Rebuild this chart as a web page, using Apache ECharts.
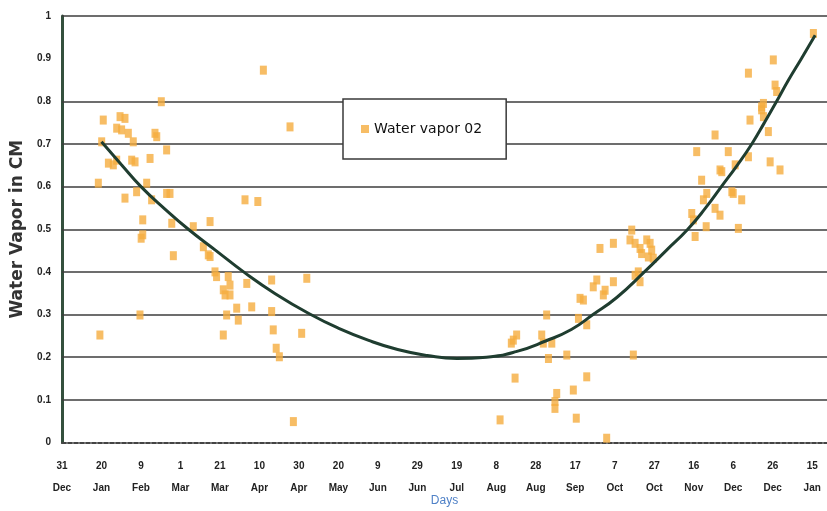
<!DOCTYPE html>
<html>
<head>
<meta charset="utf-8">
<title>Water vapor</title>
<script src="https://cdn.jsdelivr.net/npm/echarts@6/dist/echarts.min.js"></script>
<style>
  html, body { margin: 0; padding: 0; background: #ffffff; }
  #chart { width: 827px; height: 511px; }
</style>
</head>
<body>
<div id="chart"></div>
<script>
// Day of observation, counted from 31 Dec
const vaporDays = [
  18.4, 19.2, 20.9, 20.1, 23.5, 26.0, 27.7, 29.4, 31.9, 27.7, 30.2, 33.6, 36.1, 35.3, 37.0,
  31.9, 37.8, 42.9, 44.6, 40.9, 40.9, 40.1, 45.4, 48.0, 47.1, 50.3, 53.0, 53.0, 54.7, 55.6,
  39.5, 56.4,
  66.5, 75.0, 71.6, 74.1, 75.0, 77.5, 78.3, 84.2, 85.1, 81.7, 82.6, 85.1, 83.4, 81.7, 88.5,
  89.3, 93.6, 96.1, 92.7, 99.2, 102.0,
  106.2, 106.2, 107.0, 108.5, 110.1, 117.2, 121.4, 124.0, 115.5,
  221.9, 229.5, 228.6, 230.3, 227.6, 243.0, 243.8, 248.1, 245.5, 246.4, 255.7, 250.6, 249.7,
  249.7, 259.0, 260.5, 265.8, 261.6, 265.8, 262.4, 264.1, 269.1, 270.9, 274.2, 275.9, 272.5,
  279.3, 279.3, 288.6, 287.7, 290.3, 292.8, 293.6, 296.2, 297.9, 298.7, 297.0, 299.5, 291.9,
  290.3, 292.8, 289.4, 275.1,
  319.0, 319.8, 320.7, 321.5, 324.0, 326.6, 324.9, 326.3, 330.8, 330.8, 333.3, 334.2, 333.3,
  337.5, 339.3, 340.0, 341.0, 344.3, 342.6, 347.7, 347.7, 348.5, 354.4, 355.3, 354.4, 355.3,
  357.8, 358.7, 363.7, 360.3, 361.2, 362.0, 380.6
];

// Water vapour (cm) for each day above
const vaporValues = [
  0.608, 0.252, 0.756, 0.705, 0.655, 0.651, 0.662, 0.764, 0.760, 0.737, 0.733, 0.725, 0.705, 0.662, 0.658,
  0.573, 0.588, 0.608, 0.666, 0.522, 0.487, 0.479, 0.569, 0.717, 0.725, 0.799, 0.686, 0.584, 0.584, 0.514,
  0.299, 0.438,
  0.506, 0.518, 0.459, 0.440, 0.436, 0.400, 0.389, 0.389, 0.369, 0.358, 0.346, 0.346, 0.299, 0.252, 0.315,
  0.287, 0.373, 0.318, 0.569, 0.565, 0.873,
  0.381, 0.307, 0.264, 0.221, 0.201, 0.049, 0.256, 0.385, 0.740,
  0.053, 0.151, 0.240, 0.252, 0.233, 0.252, 0.233, 0.233, 0.299, 0.197, 0.205, 0.115, 0.096,
  0.080, 0.123, 0.057, 0.154, 0.291, 0.276, 0.338, 0.334, 0.365, 0.381, 0.346, 0.010, 0.455,
  0.467, 0.377, 0.498, 0.475, 0.467, 0.455, 0.443, 0.475, 0.467, 0.451, 0.435, 0.432, 0.400,
  0.392, 0.377, 0.205, 0.357,
  0.537, 0.522, 0.483, 0.682, 0.615, 0.584, 0.569, 0.506, 0.721, 0.549, 0.533, 0.635, 0.639,
  0.682, 0.588, 0.584, 0.651, 0.569, 0.502, 0.670, 0.866, 0.756, 0.787, 0.795, 0.780, 0.764,
  0.729, 0.658, 0.639, 0.897, 0.838, 0.823, 0.959
];

// Fitted seasonal curve
const trendDays   = [20, 30, 40, 52, 64, 78, 92, 108, 126, 140, 155, 170, 185, 200, 215, 230,
                     245, 258, 269, 281, 295, 306, 317, 326, 334, 342, 349.4, 355.8, 362, 368, 374.5, 381.5];
const trendValues = [0.705, 0.652, 0.600, 0.548, 0.500, 0.450, 0.400, 0.349, 0.300, 0.268, 0.240, 0.218,
                     0.204, 0.197, 0.200, 0.213, 0.238, 0.265, 0.300, 0.340, 0.400, 0.450, 0.500, 0.550,
                     0.600, 0.650, 0.700, 0.750, 0.800, 0.850, 0.900, 0.955];

// Date labels every 20 days
const tickLabels = ['31\nDec', '20\nJan', '9\nFeb', '1\nMar', '21\nMar', '10\nApr', '30\nApr',
  '20\nMay', '9\nJun', '29\nJun', '19\nJul', '8\nAug', '28\nAug', '17\nSep', '7\nOct',
  '27\nOct', '16\nNov', '6\nDec', '26\nDec', '15\nJan'];

// Horizontal reference lines
const gridValues = [0.1, 0.2, 0.3, 0.4, 0.5, 0.6, 0.7, 0.8, 1.0];

const LABEL_FONT = '"Liberation Sans Narrow", "Liberation Sans", Arial, sans-serif';
const WIDE_FONT = '"DejaVu Sans", "Liberation Sans", Arial, sans-serif';

const chart = echarts.init(document.getElementById('chart'), null, { renderer: 'canvas' });

chart.setOption({
  animation: false,
  backgroundColor: '#ffffff',
  grid: { left: 62, right: 0, top: 16, bottom: 68.5, containLabel: false, outerBoundsMode: 'none' },
  legend: {
    left: 343,
    top: 99,
    data: [{ name: 'Water vapor 02', icon: 'rect' }],
    itemWidth: 8,
    itemHeight: 8,
    itemGap: 6,
    padding: [23, 24, 23, 18],
    backgroundColor: '#ffffff',
    borderColor: '#3a3a3a',
    borderWidth: 1.5,
    borderRadius: 0,
    textStyle: { color: '#111', fontSize: 14, fontFamily: WIDE_FONT }
  },
  xAxis: {
    type: 'value',
    min: 0,
    max: 387.5,
    interval: 20,
    name: 'Days',
    nameLocation: 'middle',
    nameGap: 52,
    nameMoveOverlap: false,
    nameTextStyle: { color: '#4f81c7', fontSize: 12, fontFamily: LABEL_FONT },
    axisLine: { show: true, onZero: false, lineStyle: { color: '#444', width: 2, type: [4, 2] } },
    axisTick: { show: false },
    splitLine: { show: false },
    axisLabel: {
      margin: 13,
      color: '#222',
      fontSize: 10,
      fontWeight: 'bold',
      lineHeight: 22,
      fontFamily: LABEL_FONT,
      showMaxLabel: false,
      formatter: function (v) {
        const i = Math.round(v / 20);
        return (Math.abs(v - i * 20) < 1e-6 && tickLabels[i] !== undefined) ? tickLabels[i] : '';
      }
    }
  },
  yAxis: {
    type: 'value',
    min: 0,
    max: 1,
    interval: 0.1,
    name: 'Water Vapor in CM',
    nameLocation: 'middle',
    nameGap: 35,
    nameTextStyle: { color: '#333', fontSize: 17, fontWeight: 'bold', fontFamily: WIDE_FONT },
    axisLine: { show: true, lineStyle: { color: '#34503d', width: 3 } },
    axisTick: { show: false },
    splitLine: { show: false },
    axisLabel: {
      margin: 11,
      color: '#222',
      fontSize: 10,
      fontWeight: 'bold',
      fontFamily: LABEL_FONT,
      formatter: function (v) {
        if (Math.abs(v) < 1e-9) return '0';
        if (Math.abs(v - 1) < 1e-9) return '1';
        return v.toFixed(1);
      }
    }
  },
  series: [
    {
      name: 'Water vapor 02',
      type: 'scatter',
      symbol: 'rect',
      symbolSize: [7, 9],
      itemStyle: { color: '#f5ad3e' },
      data: vaporDays.map((d, i) => [d, vaporValues[i]]),
      z: 3,
      markLine: {
        silent: true,
        symbol: 'none',
        label: { show: false },
        lineStyle: { color: '#3c3c3c', width: 1.5, type: 'solid' },
        data: gridValues.map(v => ({ yAxis: v })),
        z: 1
      }
    },
    {
      name: 'trend',
      type: 'line',
      smooth: true,
      showSymbol: false,
      symbol: 'none',
      lineStyle: { color: '#1f3d30', width: 3 },
      data: trendDays.map((d, i) => [d, trendValues[i]]),
      z: 4
    }
  ]
});
</script>
</body>
</html>
